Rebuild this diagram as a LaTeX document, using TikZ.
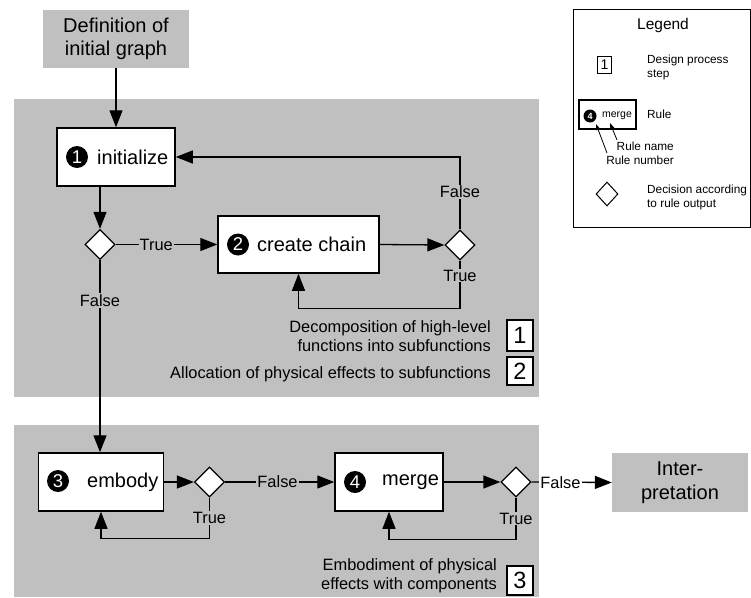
\documentclass[tikz,border=0pt]{standalone}
\usepackage{fontspec}
\setmainfont{Liberation Sans}
\usetikzlibrary{arrows.meta,shapes.geometric}
\definecolor{panel}{RGB}{192,192,192}

\tikzset{
  big/.style={font=\fontsize{20}{23.5}\selectfont},
  mid/.style={font=\fontsize{16.4}{19}\selectfont},
  small/.style={font=\fontsize{11.8}{14}\selectfont},
  rulebox/.style={draw, line width=1.5pt, fill=white, inner sep=0},
  greybox/.style={fill=panel, inner sep=0, align=center, big},
  badge/.style={circle, fill=black, text=white, inner sep=0, minimum size=22pt,
    font=\fontsize{18.5}{18.5}\selectfont},
  ruletext/.style={big, anchor=west, inner sep=0},
  decision/.style={diamond, draw, fill=white, line width=1.3pt, inner sep=0,
    minimum width=30pt, minimum height=30pt},
  flow/.style={line width=1.3pt, -{Triangle[length=17pt,width=13pt]}},
  lbl/.style={mid, fill=panel, inner sep=1pt},
  stepbox/.style={draw, line width=1.5pt, fill=white, inner sep=0,
    minimum width=26pt, font=\fontsize{23.5}{23.5}\selectfont},
  note/.style={mid, anchor=east, align=right, inner sep=0},
  legtext/.style={small, anchor=west, align=left, inner sep=0},
  legarrow/.style={line width=0.8pt, -{Triangle[length=6pt,width=4pt]}},
}

\begin{document}
\begin{tikzpicture}[x=1pt, y=-1pt]
  \useasboundingbox (0,0) rectangle (751,597);

  % background panels of the two phases
  \fill[panel] (14,99) rectangle (539,397);
  \fill[panel] (14,425) rectangle (539,597);

  % start and end
  \node[greybox, minimum width=146pt, minimum height=58pt] (start) at (116,39)
    {Definition of\\initial graph};
  \node[greybox, minimum width=136pt, minimum height=59pt] (interp) at (680,482.5)
    {Inter-\\pretation};

  % phase 1: initialize / create chain
  \node[rulebox, minimum width=118pt, minimum height=58pt] (init) at (116,157) {};
  \node[badge] (n1) at (77,157) {1};
  \node[ruletext] (t1) at (97,157) {initialize};

  \node[decision] (d1) at (100,244.5) {};

  \node[rulebox, minimum width=161pt, minimum height=57pt] (chain) at (298.5,244.5) {};
  \node[badge] (n2) at (238,244.5) {2};
  \node[ruletext] (t2) at (257,244.5) {create chain};

  \node[decision] (d2) at (460,245) {};

  \draw[flow] (start) -- (init);
  \draw[flow] (d1.north |- init.south) -- (d1.north);
  \draw[flow] (d1.east) -- node[lbl, pos=0.4] {True} (chain.west);
  \draw[flow] (chain.east) -- (d2.west);
  \draw[flow] (d2.north) |- node[lbl, pos=0.26] {False} (init.east);
  \draw[flow] (d2.south) -- node[lbl, pos=0.31] {True} ++(0,48) -| (chain.south);

  \node[stepbox, minimum height=31pt] (s1) at (520,335.5) {1};
  \node[stepbox, minimum height=28pt] (s2) at (520,371) {2};
  \node[note] (s1txt) at (491,336.5) {Decomposition of high-level\\functions into subfunctions};
  \node[note] (s2txt) at (491,374) {Allocation of physical effects to subfunctions};

  % phase 2: embody / merge
  \node[rulebox, minimum width=125pt, minimum height=58pt] (emb) at (101,482) {};
  \node[badge] (n3) at (58,481) {3};
  \node[ruletext] (t3) at (87,482) {embody};

  \node[decision] (d3) at (209.5,482) {};

  \node[rulebox, minimum width=108pt, minimum height=58pt] (merge) at (389,482) {};
  \node[badge] (n4) at (355,482) {4};
  \node[ruletext] (t4) at (382,482) {merge};

  \node[decision] (d4) at (516,482) {};

  \draw[flow] (d1.south) -- node[lbl, pos=0.21] {False} (d1.south |- emb.north);
  \draw[flow] (emb.east) -- (d3.west);
  \draw[flow] (d3.east) -- node[lbl, pos=0.48] {False} (merge.west);
  \draw[flow] (d3.south) -- node[lbl, pos=0.5] {True} ++(0,41) -| (emb.south);
  \draw[flow] (merge.east) -- (d4.west);
  \draw[flow] (d4.east) -- node[lbl, fill=white, pos=0.36] {False} (interp.west);
  \draw[flow] (d4.south) -- node[lbl, pos=0.5] {True} ++(0,42) -| (merge.south);

  \node[stepbox, minimum height=29pt] (s3) at (520,580.5) {3};
  \node[note] (s3txt) at (497,576) {Embodiment of physical\\effects with components};

  % legend
  \node[draw, line width=1.2pt, minimum width=176.5pt, minimum height=218.5pt,
    inner sep=0, anchor=north west] (legend) at (573,8.5) {};
  \node[font=\fontsize{15.5}{18}\selectfont, inner sep=0] (legtitle) at (663,25) {Legend};

  \node[draw, line width=1.2pt, minimum width=14pt, minimum height=17pt, inner sep=0,
    font=\fontsize{14}{14}\selectfont] (legstep) at (604.5,65) {1};
  \node[legtext] (legsteptxt) at (647,67.5) {Design process\\step};

  \node[draw, line width=1.2pt, minimum width=57pt, minimum height=29pt,
    inner sep=0] (legrule) at (607.5,114.5) {};
  \node[circle, fill=black, text=white, minimum size=13pt, inner sep=0,
    font=\fontsize{9}{9}\selectfont\bfseries] (legnum) at (590,116) {4};
  \node[font=\fontsize{10.5}{12}\selectfont, inner sep=0] (legname) at (617,116) {merge};
  \node[legtext] (legruletxt) at (647,114) {Rule};

  \node[small, anchor=east, inner sep=0] (namelbl) at (674,146) {Rule name};
  \node[small, anchor=east, inner sep=0] (numlbl) at (674,160) {Rule number};
  \coordinate (namefoot) at (617,140);
  \coordinate (nametip) at (610,123);
  \coordinate (numfoot) at (607,153);
  \coordinate (numtip) at (596,124);
  \draw[legarrow] (namefoot) -- (nametip);
  \draw[legarrow] (numfoot) -- (numtip);

  \node[decision, line width=1pt, minimum width=22pt, minimum height=24pt] (legdec) at (607,194) {};
  \node[legtext] (legdectxt) at (647,197.5) {Decision according\\to rule output};
\end{tikzpicture}
\end{document}
